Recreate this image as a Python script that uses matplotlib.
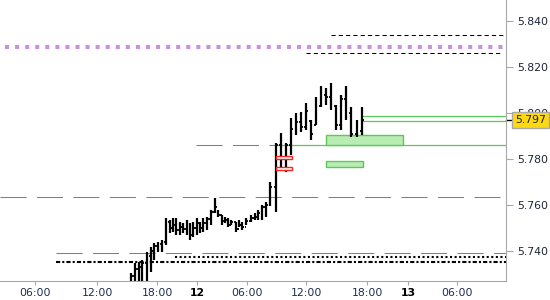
import matplotlib.pyplot as plt
from matplotlib.patches import Rectangle

# x positions of the bars (chart position units) and tick labels
bar_pos = [131, 135, 139, 142.5, 146.7, 151, 154, 157.7, 161.7, 165.7,
           170, 173, 176.5, 180, 183, 186.7, 190.5, 193.5, 196.7, 200,
           203.5, 207, 211, 215, 218.5, 222, 225.5, 228.5, 231.5, 236,
           239, 242, 246.5, 251, 255, 258.5, 262.5, 266, 270.5,
           276, 281, 286, 291, 296.5, 301, 306, 311, 315.7, 320.7,
           326, 330.7, 336, 341, 345.7, 351, 356.7, 362]

highs = [5.7304, 5.7348, 5.7352, 5.7361, 5.7396, 5.7418, 5.7435, 5.7439, 5.7448, 5.7543,
         5.7535, 5.7543, 5.7543, 5.7526, 5.7522, 5.7535, 5.7522, 5.7526, 5.7543, 5.7526,
         5.7543, 5.7548, 5.7578, 5.7630, 5.7578, 5.7557, 5.7548, 5.7543, 5.7535, 5.7526,
         5.7535, 5.7526, 5.7543, 5.7557, 5.7565, 5.7578, 5.7600, 5.7613, 5.7700,
         5.7870, 5.7913, 5.7870, 5.7978, 5.8000, 5.8004, 5.8043, 5.7970, 5.8070, 5.8117,
         5.8109, 5.8130, 5.8035, 5.8078, 5.8117, 5.8026, 5.7970, 5.8026]
lows = [5.7250, 5.7250, 5.7250, 5.7250, 5.7250, 5.7309, 5.7361, 5.7396, 5.7396, 5.7426,
        5.7478, 5.7483, 5.7470, 5.7470, 5.7478, 5.7470, 5.7448, 5.7461, 5.7470, 5.7478,
        5.7483, 5.7491, 5.7513, 5.7565, 5.7548, 5.7513, 5.7522, 5.7504, 5.7513, 5.7483,
        5.7504, 5.7491, 5.7513, 5.7526, 5.7535, 5.7535, 5.7535, 5.7548, 5.7596,
        5.7570, 5.7765, 5.7743, 5.7817, 5.7904, 5.7917, 5.7926, 5.7883, 5.7948, 5.8026,
        5.8035, 5.8013, 5.7926, 5.7926, 5.7970, 5.7896, 5.7896, 5.7904]
opens = [5.7260, 5.7290, 5.7320, 5.7330, 5.7350, 5.7380, 5.7400, 5.7420, 5.7430, 5.7440,
         5.7525, 5.7500, 5.7515, 5.7490, 5.7505, 5.7495, 5.7510, 5.7470, 5.7500, 5.7520,
         5.7500, 5.7520, 5.7540, 5.7570, 5.7575, 5.7555, 5.7530, 5.7535, 5.7515, 5.7525,
         5.7495, 5.7515, 5.7505, 5.7530, 5.7545, 5.7550, 5.7565, 5.7590, 5.7600,
         5.7680, 5.7860, 5.7800, 5.7860, 5.7930, 5.7960, 5.7940, 5.7965, 5.7950, 5.8030,
         5.8080, 5.8070, 5.8030, 5.7950, 5.8060, 5.8000, 5.7910, 5.7920]
closes = [5.7290, 5.7320, 5.7330, 5.7350, 5.7380, 5.7400, 5.7420, 5.7430, 5.7440, 5.7525,
          5.7500, 5.7515, 5.7490, 5.7505, 5.7495, 5.7510, 5.7470, 5.7500, 5.7520, 5.7500,
          5.7520, 5.7540, 5.7570, 5.7590, 5.7555, 5.7530, 5.7535, 5.7515, 5.7525, 5.7495,
          5.7515, 5.7505, 5.7530, 5.7545, 5.7550, 5.7565, 5.7590, 5.7600, 5.7680,
          5.7860, 5.7800, 5.7860, 5.7930, 5.7960, 5.7940, 5.8010, 5.7910, 5.8030, 5.8080,
          5.8070, 5.8030, 5.7950, 5.8060, 5.8000, 5.7910, 5.7920, 5.7970]

tick_pos = [35, 97, 157, 197, 247, 306, 367, 408, 457]
tick_labels = ["06:00", "12:00", "18:00", "12", "06:00", "12:00", "18:00", "13", "06:00"]
y_ticks = [5.740, 5.760, 5.780, 5.800, 5.820, 5.840]

# horizontal levels: (price, start, end)
purple_level = (5.8288, 5, 506)
black_dash_levels = [(5.8340, 331, 506), (5.8260, 306, 502)]
gray_dash_levels = [(5.7633, 0, 506), (5.7860, 196, 277), (5.7390, 56, 506)]
green_levels = [(5.7860, 277, 506), (5.7986, 362, 506), (5.7965, 362, 506)]
dotted_levels = [(5.7375, 175, 506)]
dashdot_levels = [(5.7354, 56, 506)]
# zones: (x0, x1, y0, y1)
green_zones = [(326, 403, 5.7860, 5.7906), (326, 362.7, 5.7764, 5.7790)]
red_zones = [(276, 291.7, 5.7801, 5.7813), (276, 291.7, 5.7751, 5.7764)]
last_price = 5.797

fig = plt.figure(figsize=(5.5, 3), dpi=100)
ax = fig.add_axes([0, 19 / 300, 506 / 550, 281 / 300])
ax.set_xlim(0, 506)
ax.set_ylim(5.72696, 5.84913)

y, x0, x1 = purple_level
ax.plot([x0, x1], [y, y], color="#c98fe3", lw=2.9, dashes=(1, 1.5),
        solid_capstyle="butt", dash_capstyle="butt")
for y, x0, x1 in black_dash_levels:
    ax.plot([x0, x1], [y, y], color="black", lw=0.75, dashes=(4, 3))
for y, x0, x1 in gray_dash_levels:
    ax.plot([x0, x1], [y, y], color="#808080", lw=0.75, dashes=(25, 10))
for y, x0, x1 in green_levels:
    ax.plot([x0, x1], [y, y], color="#5cc85c", lw=0.9)
for y, x0, x1 in dotted_levels:
    ax.plot([x0, x1], [y, y], color="black", lw=1.5, dashes=(1, 1.2))
for y, x0, x1 in dashdot_levels:
    ax.plot([x0, x1], [y, y], color="black", lw=1.5, dashes=(2, 1, 1, 1))

for x0, x1, y0, y1 in green_zones:
    ax.add_patch(Rectangle((x0, y0), x1 - x0, y1 - y0, facecolor="#b9ecb3",
                           edgecolor="#5cc85c", lw=1, zorder=2))

# OHLC bars
ax.vlines(bar_pos, lows, highs, color="black", lw=1.6, zorder=3)
ax.hlines(opens, [p - 1.8 for p in bar_pos], bar_pos, color="black", lw=1.3, zorder=3)
ax.hlines(closes, bar_pos, [p + 1.8 for p in bar_pos], color="black", lw=1.3, zorder=3)

for x0, x1, y0, y1 in red_zones:
    ax.add_patch(Rectangle((x0, y0), x1 - x0, y1 - y0, facecolor="white",
                           edgecolor="#ff2020", lw=1, zorder=4))

# axes styling
for s in ["left", "top"]:
    ax.spines[s].set_visible(False)
for s in ["right", "bottom"]:
    ax.spines[s].set_color("#a8a8a8")
ax.yaxis.tick_right()
ax.set_yticks(y_ticks)
ax.set_yticklabels([f"{v:.3f}" for v in y_ticks])
ax.tick_params(axis="y", colors="#a8a8a8", labelcolor="#1c2436", length=5,
               labelsize=7.8, pad=3)
ax.set_xticks(tick_pos)
ax.set_xticklabels(tick_labels)
ax.tick_params(axis="x", colors="#a8a8a8", labelcolor="#1c2c50", length=3,
               labelsize=7.8, pad=2)
for lbl in ax.get_xticklabels():
    if lbl.get_text() in ("12", "13"):
        lbl.set_fontweight("bold")
        lbl.set_color("black")

# last price marker, its box covers the 5.800 label as in the original
ax.plot([506, 511], [last_price, last_price], color="black", lw=1, clip_on=False)
ax.text(515, last_price, f"{last_price:.3f}", fontsize=7.8, color="#1c2436",
        va="center", ha="left", clip_on=False, zorder=10,
        bbox=dict(boxstyle="square,pad=0.3", facecolor="#ffd814", edgecolor="#a8a8a8", lw=1))

fig.savefig("out.png", dpi=100)
